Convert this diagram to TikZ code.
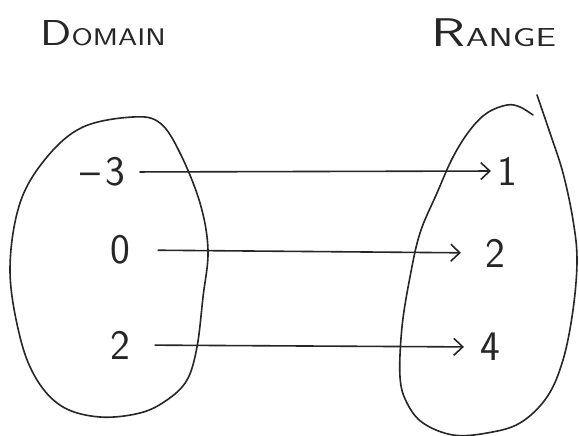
\documentclass[tikz,border=0pt]{standalone}
\usetikzlibrary{arrows.meta}
\begin{document}
\begin{tikzpicture}[x=1pt,y=-1pt,
  ink/.style={draw=black!85, line width=1.6pt, line cap=round, line join=round},
  num/.style={font=\fontsize{42}{42}\selectfont\sffamily, text=black!85, inner sep=0pt},
  head/.style={text=black!85, inner sep=0pt},
  arr/.style={ink, -{Straight Barb[length=9pt,width=17pt,line width=1.6pt]}}
]
\path[use as bounding box, fill=white] (0,0) rectangle (579,436);
% domain oval
\draw[ink] plot[smooth cycle, tension=0.6] coordinates {
  (133,117) (160,123) (180,153) (200,203) (208,250) (203,297) (197,347)
  (187,380) (167,400) (140,413) (100,417) (63,407) (37,380) (20,337)
  (10,270) (20,203) (47,157) (83,127)};
% range oval (open at the top)
\draw[ink] plot[smooth, tension=0.6] coordinates {
  (533,115) (520,107) (507,105) (487,113) (470,130) (453,157) (437,193)
  (420,233) (410,277) (402,327) (400,377) (407,403) (423,423) (453,435)
  (487,433) (520,423) (547,397) (563,360) (573,310) (577,260) (573,220)
  (563,173) (550,133) (537,95)};
% headings
\node[head] (dom) at (103,33) {\scalebox{1.28}[1]{{\fontsize{36}{36}\selectfont\sffamily D}{\fontsize{24}{24}\selectfont\sffamily OMAIN}}};
\node[head] (ran) at (494,33) {\scalebox{1.4}[1]{{\fontsize{40}{40}\selectfont\sffamily R}{\fontsize{26}{26}\selectfont\sffamily ANGE}}};
% domain values
\node[num] (dm3) at (103,172) {–\hspace{6pt}3};
\node[num] (d0) at (120,250) {0};
\node[num] (d2) at (120,345) {2};
% range values
\node[num] (r1) at (507,171) {1};
\node[num] (r2) at (495,253) {2};
\node[num] (r4) at (490,347) {4};
% mapping arrows
\draw[arr, shorten <=14pt, shorten >=6pt] (dm3.east) -- (r1.west);
\draw[arr, shorten <=28pt, shorten >=24pt] (d0.east) -- (r2.west);
\draw[arr, shorten <=25pt, shorten >=16pt] (d2.east) -- (r4.west);
\end{tikzpicture}
\end{document}
